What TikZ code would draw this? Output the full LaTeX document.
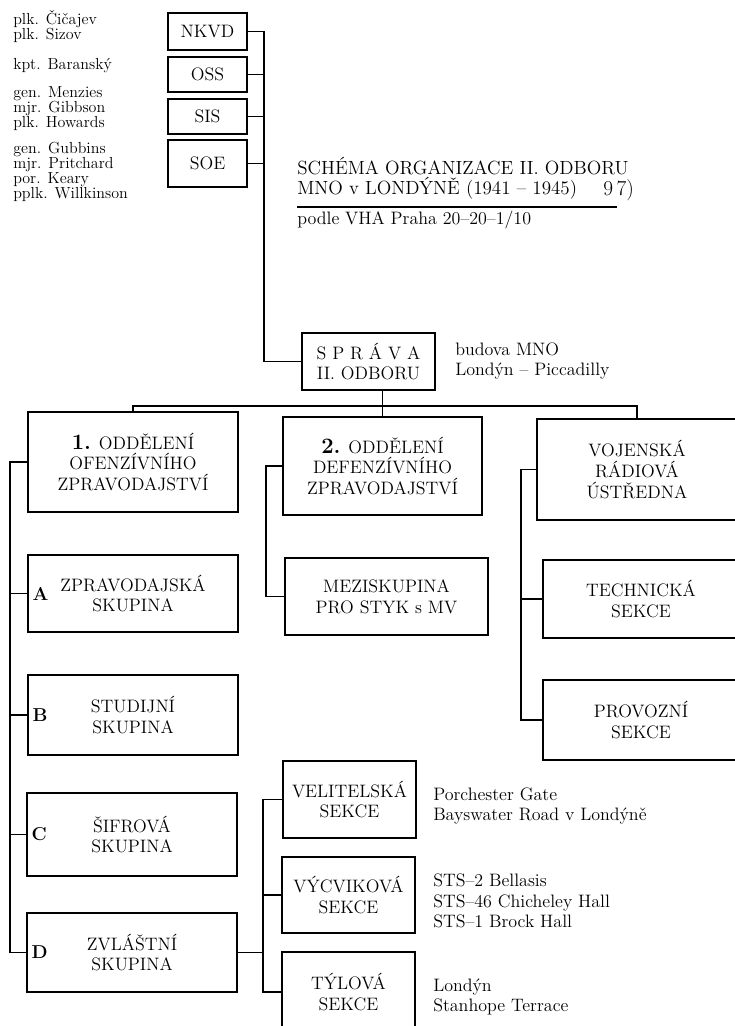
\documentclass[tikz,border=0pt]{standalone}
\usepackage{tikz}
\usetikzlibrary{positioning}
\newcommand{\orgFont}[0]{\fontsize{13.5}{15.5}\selectfont}
\newcommand{\titleFont}[0]{\fontsize{14.3}{11.5}\selectfont}
\newcommand{\nameFont}[0]{\fontsize{12}{11.25}\selectfont}
\newcommand{\letterFont}[0]{\fontsize{14}{16}\selectfont\bfseries}
\newcommand{\deptNo}[1]{{\fontsize{16.5}{15.5}\selectfont\bfseries #1}}
\newcommand{\lineWidth}[0]{1.2pt}

\begin{document}
\begin{tikzpicture}[x=0.75pt, y=-0.75pt]
  \tikzset{orgbox/.style 2 args={draw, line width=\lineWidth, align=center, font=\orgFont,
      minimum width=#1*0.75pt, minimum height=#2*0.75pt, inner sep=2pt}}
  \tikzset{orgtext/.style={align=left, font=\orgFont, inner sep=0pt, anchor=west}}
  \tikzset{nametext/.style={align=left, font=\nameFont, inner sep=0pt, anchor=west}}
  \tikzset{link/.style={line width=\lineWidth}}
  \useasboundingbox (0,0) rectangle (735,1026);
  \clip (0,0) rectangle (735,1026);

  \node[orgbox={79}{37}] (nkvd) at (207.5,31.5) {NKVD};
  \node[orgbox={79}{35}] (oss) at (207.5,74.5) {OSS};
  \node[orgbox={79}{35}] (sis) at (207.5,116.5) {SIS};
  \node[orgbox={79}{47}] (soe) at (207.5,163.5) {SOE};

  \node[nametext] (nkvdnames) at (13,27) {plk. Čičajev\\plk. Sizov};
  \node[nametext] (ossnames) at (13,66) {kpt. Baranský};
  \node[nametext] (sisnames) at (13,109) {gen. Menzies\\mjr. Gibbson\\plk. Howards};
  \node[nametext] (soenames) at (13,172) {gen. Gubbins\\mjr. Pritchard\\por. Keary\\pplk. Willkinson};

  \node[orgtext, anchor=base west, font=\titleFont] (title) at (297,174) {SCHÉMA ORGANIZACE II. ODBORU};
  \node[orgtext, anchor=base west, font=\titleFont] (subtitle) at (297,194) {MNO v LONDÝNĚ (1941 -- 1945)};
  \node[anchor=base west, inner sep=0pt, font=\fontsize{16}{16}\selectfont] (fnmark) at (603,195) {9\,7)};
  \coordinate (ruleleft) at (297,207);
  \coordinate (ruleright) at (617,207);
  \draw[link] (ruleleft) -- (ruleright);
  \node[orgtext, anchor=base west] (source) at (297,224) {podle VHA Praha 20--20--1/10};

  \node[orgbox={133}{57}] (sprava) at (368.5,361.5) {S P R Á V A\\II. ODBORU};
  \node[orgtext] (spravaloc) at (455,361) {budova MNO\\Londýn -- Piccadilly};

  \node[orgbox={210}{100}] (odd1) at (133,462) {\deptNo{1.} ODDĚLENÍ\\OFENZÍVNÍHO\\ZPRAVODAJSTVÍ};
  \node[orgbox={199}{98}] (odd2) at (382.5,466) {\deptNo{2.} ODDĚLENÍ\\DEFENZÍVNÍHO\\ZPRAVODAJSTVÍ};
  \node[orgbox={200}{101}] (vru) at (637,469.5) {VOJENSKÁ\\RÁDIOVÁ\\ÚSTŘEDNA};

  \node[orgbox={210}{77}] (a) at (133,593.5) {ZPRAVODAJSKÁ\\SKUPINA};
  \node[orgbox={210}{80}] (b) at (133,715) {STUDIJNÍ\\SKUPINA};
  \node[orgbox={210}{83}] (c) at (132,834.5) {ŠIFROVÁ\\SKUPINA};
  \node[orgbox={210}{79}] (d) at (132,952.5) {ZVLÁŠTNÍ\\SKUPINA};
  \node[right=0.5pt of a.west, font=\letterFont] (la) {A};
  \node[right=0.5pt of b.west, font=\letterFont] (lb) {B};
  \node[right=0.5pt of c.west, font=\letterFont] (lc) {C};
  \node[right=0.5pt of d.west, font=\letterFont] (ld) {D};

  \node[orgbox={203}{77}] (mezi) at (386.5,596.5) {MEZISKUPINA\\PRO STYK s MV};
  \node[orgbox={196}{78}] (tech) at (641,599) {TECHNICKÁ\\SEKCE};
  \node[orgbox={196}{80}] (prov) at (641,720) {PROVOZNÍ\\SEKCE};

  \node[orgbox={133}{77}] (vel) at (349.5,799.5) {VELITELSKÁ\\SEKCE};
  \node[orgbox={133}{76}] (vyc) at (348.5,895) {VÝCVIKOVÁ\\SEKCE};
  \node[orgbox={133}{80}] (tyl) at (348.5,992) {TÝLOVÁ\\SEKCE};
  \node[orgtext] (velloc) at (433,806) {Porchester Gate\\Bayswater Road v Londýně};
  \node[orgtext] (vycloc) at (433,901) {STS--2 Bellasis\\STS--46 Chicheley Hall\\STS--1 Brock Hall};
  \node[orgtext] (tylloc) at (433,997) {Londýn\\Stanhope Terrace};

  \draw[link] (nkvd.east) -- ++(16,0) |- (sprava.west);
  \foreach \n in {oss,sis,soe} \draw[link] (\n.east) -- ++(16,0);
  \draw[link] (sprava.south -| odd2.north) -- (odd2.north);
  \draw[link] (odd1.north) -- ++(0,-5) -| (vru.north);
  \draw[link] (odd1.west) -- ++(-17,0) coordinate (spine1) |- (d.west);
  \foreach \n in {a,b,c} \draw[link] (\n.west) -- (\n.west -| spine1);
  \draw[link] (odd2.west) -- ++(-16,0) |- (mezi.west);
  \draw[link] (vru.west) -- ++(-15,0) coordinate (spine3) |- (prov.west);
  \draw[link] (tech.west) -- (tech.west -| spine3);
  \draw[link] (vel.west) -- ++(-19,0) coordinate (spine4) |- (tyl.west);
  \draw[link] (vyc.west) -- (vyc.west -| spine4);
  \draw[link] (d.east) -- (d.east -| spine4);
\end{tikzpicture}
\end{document}
